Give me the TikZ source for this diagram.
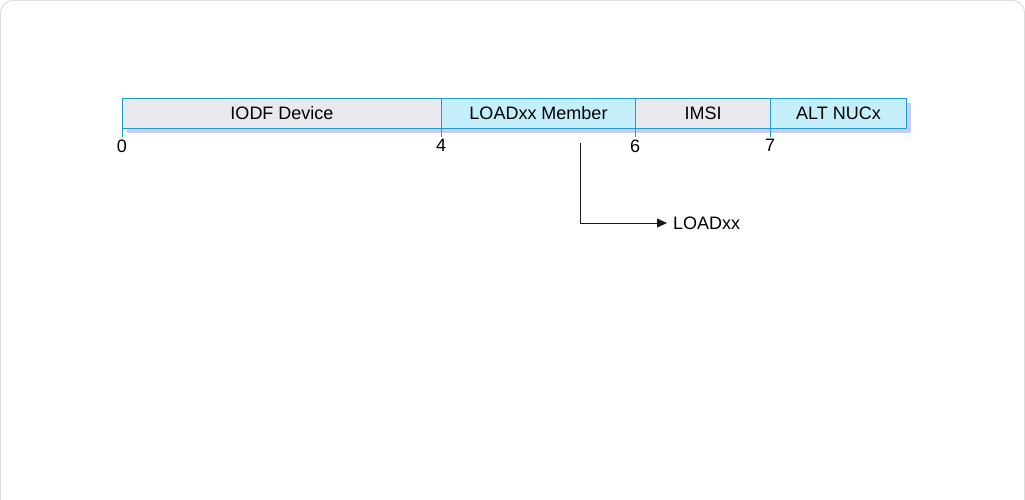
\documentclass[tikz,border=0pt]{standalone}
\usepackage{fontspec}
\setmainfont{Liberation Sans}
\usetikzlibrary{arrows.meta}
\definecolor{framegray}{HTML}{DDDDDD}
\definecolor{cellgrayfill}{HTML}{E9E8EF}
\definecolor{cellbluefill}{HTML}{C5EEFB}
\definecolor{cellborder}{HTML}{1EA0CC}
\definecolor{shadowfill}{HTML}{CBCBEE}
\definecolor{darkline}{HTML}{1A1A1A}
\tikzset{
  frame/.style={draw=framegray, line width=1pt, rounded corners=12pt},
  cell/.style={rectangle, draw=cellborder, line width=1pt, anchor=north west, minimum height=30pt, inner sep=0pt, font=\fontsize{18}{21}\selectfont},
  graycell/.style={cell, fill=cellgrayfill},
  bluecell/.style={cell, fill=cellbluefill},
  tick/.style={draw=cellborder, line width=1pt},
  offset/.style={font=\fontsize{18}{21}\selectfont, anchor=north, inner sep=2pt},
  pointer/.style={-{Triangle[length=10pt, width=9pt]}, line width=0.8pt, draw=darkline},
  target/.style={font=\fontsize{18}{21}\selectfont, anchor=west, inner xsep=6pt, inner ysep=2pt}
}

\begin{document}
\begin{tikzpicture}[x=1pt, y=-1pt]

\useasboundingbox (0,0) rectangle (1025,500);
\clip (0,0) rectangle (1025,500);
\draw[frame] (0.5,0.5) rectangle (1024.5,530);

% shadow behind the bar
\fill[shadowfill] (127,103) rectangle (911,133);

\node[graycell, minimum width=319pt] (iodf) at (122,98) {IODF Device};
\node[bluecell, minimum width=194pt] (member) at (441,98) {LOADxx Member};
\node[graycell, minimum width=135pt] (imsi) at (635,98) {IMSI};
\node[bluecell, minimum width=136pt] (altnuc) at (770,98) {ALT NUCx};

\draw[tick] (iodf.south west) -- ++(0,8) node[offset] (off0) {0};
\draw[tick] (member.south west) -- ++(0,8) node[offset] (off4) {4};
\draw[tick] (imsi.south west) -- ++(0,8) node[offset] (off6) {6};
\draw[tick] (altnuc.south west) -- ++(0,8) node[offset] (off7) {7};

\coordinate (split) at (580,143);
\node[target] (loadxx) at (667,223) {LOADxx};
\draw[pointer] (split) |- (loadxx.west);

\end{tikzpicture}
\end{document}
